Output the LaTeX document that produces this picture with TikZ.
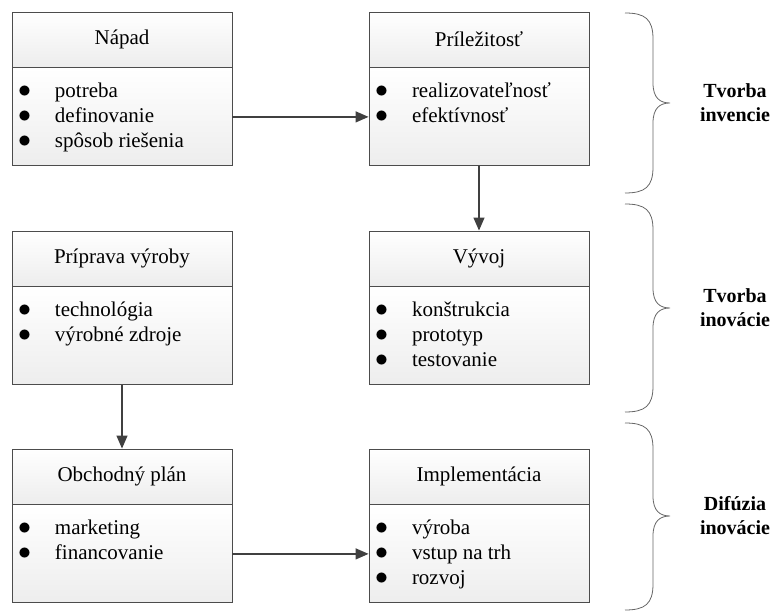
\documentclass[tikz,border=0pt]{standalone}
\usepackage{fontspec}
\setmainfont{Liberation Serif}
\usetikzlibrary{arrows.meta,positioning}
\newcommand{\zoznam}[1]{\parbox[c][98pt][t]{220pt}{\vspace*{12.5pt}\leftskip=6pt #1}}
\newcommand{\pol}[1]{\strut\makebox[37pt][l]{\scalebox{1.25}{$\bullet$}}#1\par}
\tikzset{
  hlavicka/.style={draw=black!70,line width=0.9pt,top color=white,bottom color=black!7,
                   minimum width=220pt,minimum height=55pt,inner sep=0pt,align=center},
  telo/.style={draw=black!70,line width=0.9pt,top color=white,bottom color=black!7,
               minimum width=220pt,minimum height=98pt,inner sep=0pt},
  sipka/.style={-{Triangle[length=13pt,width=11pt]},draw=black!75,fill=black!75,line width=1.3pt},
  zatvorka/.style={draw=black!60,line width=0.8pt},
  faza/.style={font=\bfseries\fontsize{20}{24}\selectfont,align=center},
}
\begin{document}
\begin{tikzpicture}[x=1pt,y=-1pt,font=\fontsize{21}{25}\selectfont]
  \useasboundingbox (0,0) rectangle (772,612);
  % prvy riadok
  \node[hlavicka] (napH) at (122,39.5) {Nápad};
  \node[telo,below=0pt of napH] (napB) {\zoznam{\pol{potreba}\pol{definovanie}\pol{spôsob riešenia}}};
  \node[hlavicka] (prilH) at (479,39.5) {Príležitosť};
  \node[telo,below=0pt of prilH] (prilB) {\zoznam{\pol{realizovateľnosť}\pol{efektívnosť}}};
  % druhy riadok
  \node[hlavicka] (pripH) at (122,258.5) {Príprava výroby};
  \node[telo,below=0pt of pripH] (pripB) {\zoznam{\pol{technológia}\pol{výrobné zdroje}}};
  \node[hlavicka] (vyvH) at (479,258.5) {Vývoj};
  \node[telo,below=0pt of vyvH] (vyvB) {\zoznam{\pol{konštrukcia}\pol{prototyp}\pol{testovanie}}};
  % treti riadok
  \node[hlavicka] (obchH) at (122,476.5) {Obchodný plán};
  \node[telo,below=0pt of obchH] (obchB) {\zoznam{\pol{marketing}\pol{financovanie}}};
  \node[hlavicka] (implH) at (479,476.5) {Implementácia};
  \node[telo,below=0pt of implH] (implB) {\zoznam{\pol{výroba}\pol{vstup na trh}\pol{rozvoj}}};
  % sipky
  \draw[sipka] (napB) -- (prilB);
  \draw[sipka] (prilB) -- (vyvH);
  \draw[sipka] (pripB) -- (obchH);
  \draw[sipka] (obchB) -- (implB);
  % zatvorky a fazy
  \foreach \t/\m/\b/\n/\txt in {13/103/193/f1/{Tvorba\\invencie},
                              204/308/412/f2/{Tvorba\\inovácie},
                              423/516/610/f3/{Difúzia\\inovácie}}{
    \draw[zatvorka] (625,\t) .. controls (645,\t) and (653,\t+6) .. (653,\t+26)
      -- (653,\m-20) .. controls (653,\m-5) and (660,\m) .. (670,\m)
      .. controls (660,\m) and (653,\m+5) .. (653,\m+20)
      -- (653,\b-26) .. controls (653,\b-6) and (645,\b) .. (625,\b);
    \node[faza] (\n) at (735,\m) {\txt};
  }
\end{tikzpicture}
\end{document}
